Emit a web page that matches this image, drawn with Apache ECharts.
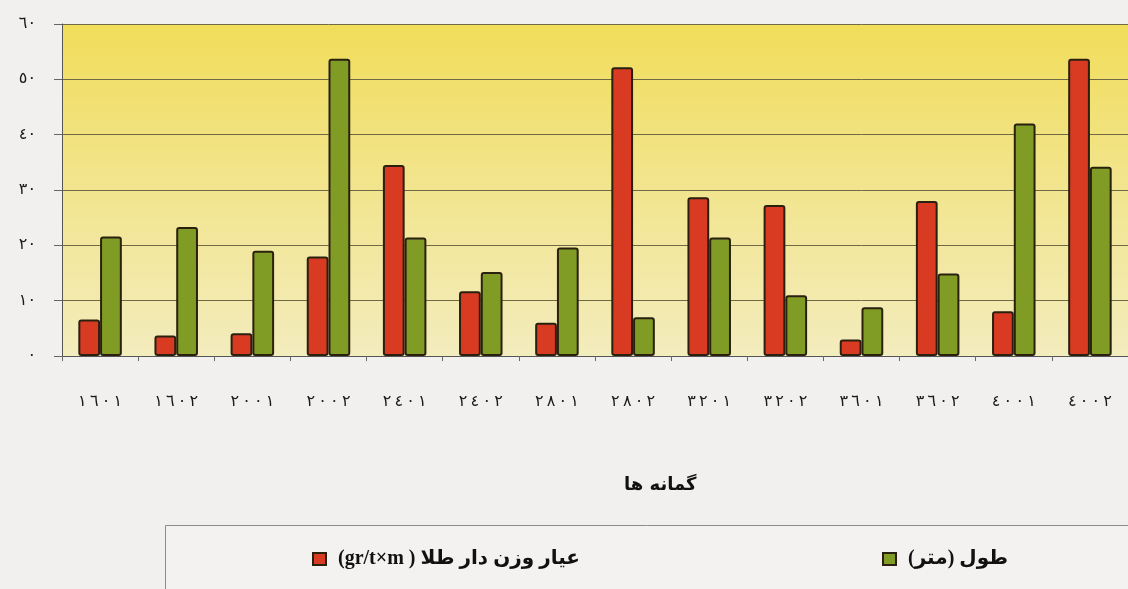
<!DOCTYPE html>
<html>
<head>
<meta charset="utf-8">
<script src="https://cdn.jsdelivr.net/npm/echarts@6/dist/echarts.min.js"></script>
<style>
  html, body { margin: 0; padding: 0; background: #f1f0ee; }
  #chart { width: 1128px; height: 589px; }
</style>
</head>
<body>
<div id="chart"></div>
<script>
// Borehole identifiers (x categories)
const boreholes = ['١٦٠١', '١٦٠٢', '٢٠٠١', '٢٠٠٢', '٢٤٠١', '٢٤٠٢', '٢٨٠١',
                   '٢٨٠٢', '٣٢٠١', '٣٢٠٢', '٣٦٠١', '٣٦٠٢', '٤٠٠١', '٤٠٠٢'];
// Weighted gold grade (gr/t×m)
const gradeWeighted = [6.6, 3.7, 4.1, 18.0, 34.5, 11.7, 6.0, 52.2, 28.7, 27.3, 3.0, 28.0, 8.1, 53.7];
// Intercept length (m)
const lengthMeters = [21.6, 23.3, 19.0, 53.7, 21.4, 15.2, 19.6, 7.0, 21.4, 11.0, 8.8, 14.9, 42.0, 34.2];
// Value axis tick labels
const yTickLabels = ['٠', '١٠', '٢٠', '٣٠', '٤٠', '٥٠', '٦٠'];

const gradeName = '\u202Bعيار وزن دار طلا ( gr/t×m)\u202C';
const lengthName = '\u202Bطول (متر)\u202C';
const axisTitle = 'گمانه ها';

const arabicFont = '"DejaVu Sans", sans-serif';
const legendFont = '"Liberation Serif", "DejaVu Sans", serif';
const barBorder = '#2a2010';

// spread the digits of a borehole id, keeping them in written order
const spreadDigits = s => '\u202D' + s.split('').join('\u2009') + '\u202C';

const chart = echarts.init(document.getElementById('chart'), null, { renderer: 'canvas' });

chart.setOption({
  backgroundColor: '#f1f0ee',
  animation: false,
  grid: {
    left: 62, top: 24, width: 1077, height: 332,
    show: true,
    borderWidth: 0,
    backgroundColor: new echarts.graphic.LinearGradient(0, 0, 0, 1, [
      { offset: 0, color: '#f1dd5a' },
      { offset: 0.45, color: '#f2e48a' },
      { offset: 1, color: '#f3ecbd' }
    ])
  },
  graphic: [
    {
      // legend frame, running off the right and bottom edges
      type: 'rect', z: 0,
      shape: { x: 165.5, y: 525.5, width: 1100, height: 120 },
      style: { fill: '#f3f2f0', stroke: '#8c8c8c', lineWidth: 1 }
    },
    {
      type: 'text',
      left: 624, top: 476,
      style: {
        text: axisTitle,
        fontSize: 18, fontWeight: 'bold',
        fontFamily: arabicFont, fill: '#111'
      }
    }
  ],
  legend: {
    left: 312, top: 549,
    orient: 'horizontal',
    padding: 0,
    itemWidth: 13, itemHeight: 12, itemGap: 302,
    icon: 'rect',
    textStyle: {
      fontSize: 20, fontWeight: 'bold', color: '#111', fontFamily: legendFont,
      padding: [0, 0, 0, 7]
    },
    data: [gradeName, lengthName]
  },
  xAxis: {
    type: 'category',
    data: boreholes,
    axisLine: { show: true, lineStyle: { color: '#555', width: 1 } },
    axisTick: { show: true, length: 5, alignWithLabel: false, interval: 0, lineStyle: { color: '#666' } },
    axisLabel: {
      interval: 0, margin: 38,
      fontSize: 16, color: '#1a1a1a', fontFamily: arabicFont,
      formatter: spreadDigits
    },
    splitLine: { show: false }
  },
  yAxis: {
    type: 'value',
    min: 0, max: 60, interval: 10,
    axisLine: { show: true, lineStyle: { color: '#555', width: 1 } },
    axisTick: { show: true, length: 8, lineStyle: { color: '#666' } },
    axisLabel: {
      margin: 26, fontSize: 16, color: '#1a1a1a', fontFamily: arabicFont,
      formatter: v => yTickLabels[Math.round(v / 10)]
    },
    splitLine: { show: true, lineStyle: { color: '#6f6a45', width: 1 } }
  },
  series: [
    {
      name: gradeName,
      type: 'bar',
      data: gradeWeighted,
      barGap: '0%',
      barCategoryGap: '42.86%',
      itemStyle: { color: '#d83a22', borderColor: barBorder, borderWidth: 2, borderRadius: 2 }
    },
    {
      name: lengthName,
      type: 'bar',
      data: lengthMeters,
      barGap: '0%',
      barCategoryGap: '42.86%',
      itemStyle: { color: '#809c25', borderColor: barBorder, borderWidth: 2, borderRadius: 2 }
    }
  ]
});
</script>
</body>
</html>
